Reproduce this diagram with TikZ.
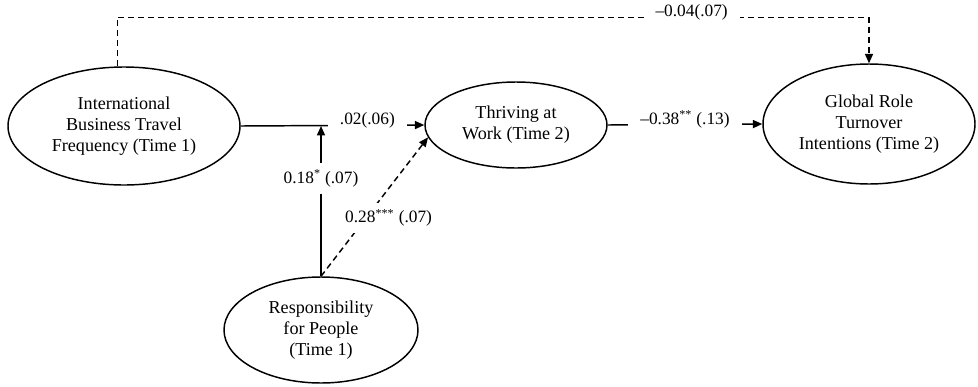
\documentclass[tikz,border=0pt]{standalone}
\usepackage{fontspec}
\setmainfont{Liberation Serif}
\usetikzlibrary{arrows.meta,shapes.geometric}
\tikzset{
  >={Triangle[length=7pt,width=6pt]},
  var/.style={ellipse,draw,line width=1.1pt,align=center,inner sep=0pt,
    font=\fontsize{13.6}{15.75}\selectfont},
  link/.style={->,line width=1.1pt},
  dash link/.style={link,dash pattern=on 4.5pt off 3pt},
  lbl/.style={fill=white,inner xsep=9pt,inner ysep=5pt,
    font=\fontsize{13}{15.75}\selectfont},
}

\begin{document}
\begin{tikzpicture}[x=0.75pt,y=-0.75pt]
  \useasboundingbox (0,0) rectangle (978,386);
  % variables
  \node[var,minimum width=174pt,minimum height=88.5pt] (ibt) at (124,126) {International\\Business Travel\\Frequency (Time 1)};
  \node[var,minimum width=136.5pt,minimum height=64.5pt] (thr) at (516,125) {Thriving at\\Work (Time 2)};
  \node[var,minimum width=159pt,minimum height=90pt] (grt) at (869,124) {Global Role\\Turnover\\Intentions (Time 2)};
  \node[var,minimum width=145.5pt,minimum height=79.5pt] (rfp) at (321,330) {Responsibility\\for People\\(Time 1)};
  \coordinate (mod) at (321,126);
  % paths
  \draw[link] (ibt.east) -- (thr.west) node[lbl,pos=0.69,yshift=4pt] {.02(.06)};
  \draw[link] (rfp.north) -- (mod) node[lbl,pos=0.65] {0.18\textsuperscript{*} (.07)};
  \draw[dash link] (rfp.north) -- (thr.188) node[lbl,pos=0.42,xshift=17pt] {0.28\textsuperscript{***} (.07)};
  \draw[link] (thr.east) -- (grt.west) node[lbl,midway,yshift=4pt] {--0.38\textsuperscript{**} (.13)};
  \draw[dash link] ([xshift=-5pt]ibt.north) -- ++(0,-49) -| (grt.north) node[lbl,pos=0.382,yshift=4pt] {--0.04(.07)};
\end{tikzpicture}
\end{document}
